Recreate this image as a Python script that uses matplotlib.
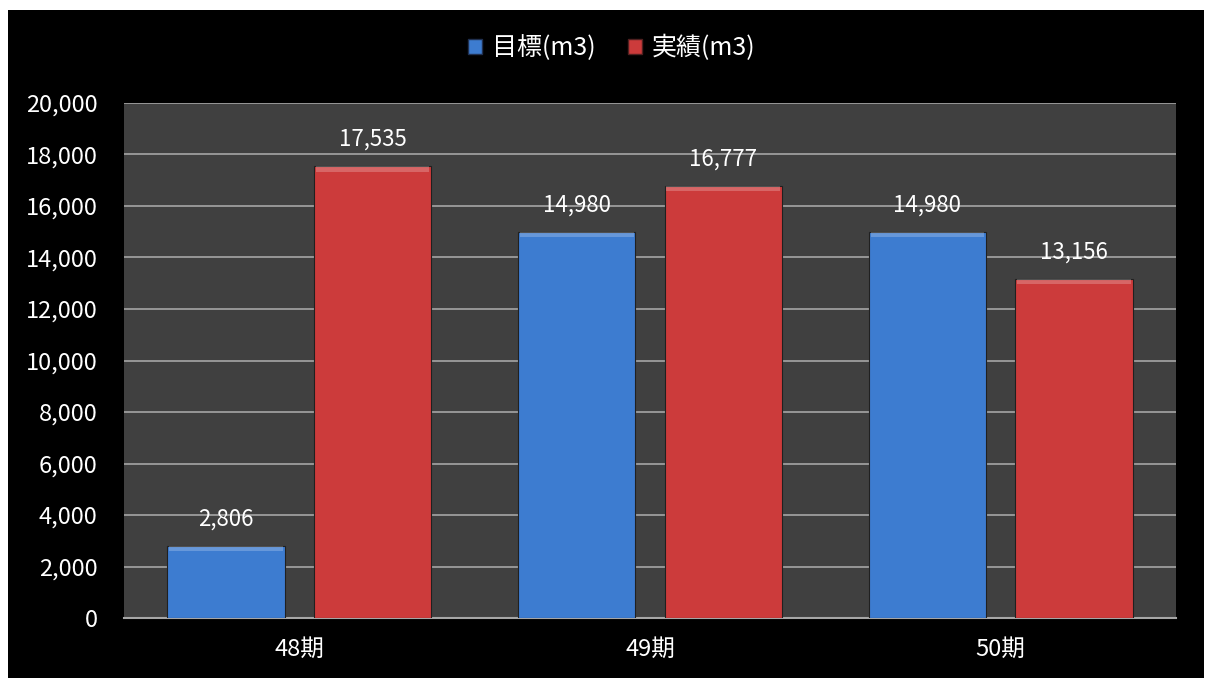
import numpy as np
import matplotlib.pyplot as plt
from matplotlib.patches import Patch

plt.rcParams['font.family'] = ['Noto Sans CJK JP', 'DejaVu Sans']

categories = ["48期", "49期", "50期"]
target = [2806, 14980, 14980]
actual = [17535, 16777, 13156]
series_names = ["目標(m3)", "実績(m3)"]
yticks = list(range(0, 20001, 2000))

blue = "#3d7cd0"
red = "#cc3b3b"

fig = plt.figure(figsize=(12.06, 6.78), dpi=100)
fig.patch.set_facecolor("white")
# black chart area with white margin on top/left
fig.patches.append(plt.Rectangle((8 / 1206, 0), 1196 / 1206, 668 / 678,
                                 transform=fig.transFigure, facecolor="black",
                                 edgecolor="none", zorder=-10))

ax = fig.add_axes([124 / 1206, 60 / 678, 1052 / 1206, 515 / 678])
ax.set_facecolor("#404040")

x = np.arange(len(categories))
w = 0.334
off = 0.209

for vals, col, sign in [(target, blue, -1), (actual, red, 1)]:
    pos = x + sign * off
    ax.bar(pos, vals, width=w, color=col, edgecolor="#202020", linewidth=0.8, zorder=3)
    # lighter bevel strip at the top of each bar
    ax.bar(pos, [200] * len(vals), bottom=[v - 200 for v in vals], width=w * 0.97,
           color="white", alpha=0.22, linewidth=0, zorder=4)
    for px, v in zip(pos, vals):
        ax.text(px, v + 600, f"{v:,}", ha="center", va="bottom", color="white",
                fontsize=16, zorder=5)

ax.set_xlim(-0.5, 2.5)
ax.set_ylim(0, 20000)
ax.set_yticks(yticks)
ax.set_yticklabels([f"{t:,}" for t in yticks])
ax.set_xticks(x)
ax.set_xticklabels(categories)
ax.yaxis.grid(True, color="#a6a6a6", linewidth=1.2, zorder=1)
ax.set_axisbelow(True)
ax.tick_params(axis="y", colors="white", labelsize=17, length=0, pad=19)
ax.tick_params(axis="x", colors="white", labelsize=17, length=0, pad=14)
for s in ["top", "right", "left"]:
    ax.spines[s].set_visible(False)
ax.spines["bottom"].set_color("#a6a6a6")
ax.spines["bottom"].set_linewidth(1.5)

handles = [Patch(facecolor=blue, edgecolor="#203050"), Patch(facecolor=red, edgecolor="#502020")]
leg = fig.legend(handles, series_names, loc="center", bbox_to_anchor=(612 / 1206, 1 - 48 / 678),
                 ncol=2, frameon=False, fontsize=18, labelcolor="white",
                 handlelength=0.55, handleheight=0.55, handletextpad=0.4, columnspacing=1.3)

fig.savefig("out.png", dpi=100, facecolor=fig.get_facecolor())
